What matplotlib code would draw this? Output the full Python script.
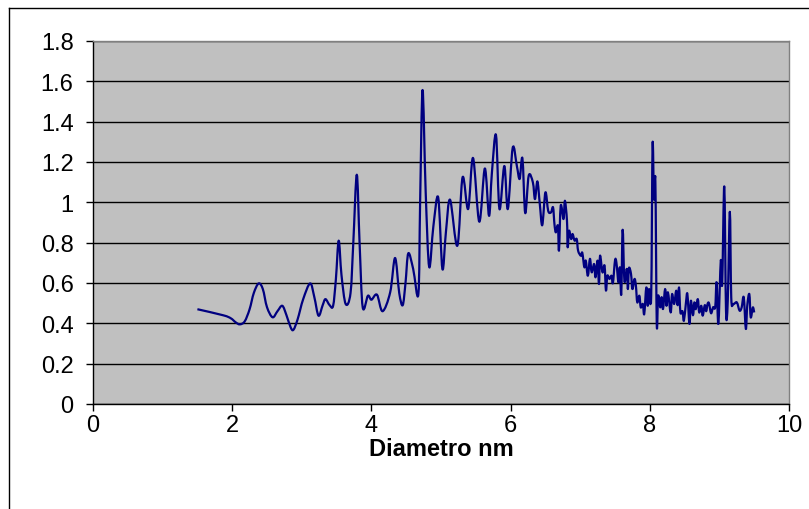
import matplotlib
matplotlib.use("Agg")
import matplotlib.pyplot as plt
from matplotlib.lines import Line2D
from matplotlib.path import Path
from matplotlib.patches import PathPatch

# Size distribution: diameter (nm) vs. intensity
diametro = [
    1.50, 1.87, 1.98, 2.05, 2.11, 2.18, 2.25, 2.31, 2.38, 2.44, 2.50, 2.58,
    2.65, 2.72, 2.78, 2.84, 2.88, 2.94, 3.02, 3.12, 3.18, 3.24, 3.30, 3.34,
    3.40, 3.45, 3.49, 3.53, 3.57, 3.63, 3.70, 3.74, 3.79, 3.83, 3.875, 3.95,
    4.00, 4.08, 4.16, 4.27, 4.34, 4.40, 4.45, 4.49, 4.53, 4.60, 4.675, 4.70,
    4.735, 4.78, 4.83, 4.89, 4.96, 5.02, 5.07, 5.13, 5.235, 5.31, 5.39, 5.46,
    5.55, 5.63, 5.69, 5.73, 5.79, 5.84, 5.91, 5.96, 6.03, 6.09, 6.13, 6.17,
    6.21, 6.26, 6.32, 6.35, 6.385, 6.42, 6.455, 6.50, 6.54, 6.58, 6.61, 6.63,
    6.65, 6.68, 6.695, 6.72, 6.76, 6.78, 6.81, 6.82, 6.84, 6.87, 6.89, 6.92,
    6.95, 6.97, 7.01, 7.03, 7.06, 7.08, 7.11, 7.14, 7.165, 7.20, 7.22, 7.25,
    7.27, 7.285, 7.32, 7.35, 7.37, 7.39, 7.42, 7.45, 7.47, 7.50, 7.52, 7.55,
    7.57, 7.59, 7.61, 7.635, 7.67, 7.685, 7.70, 7.73, 7.75, 7.78, 7.80, 7.82,
    7.85, 7.87, 7.90, 7.92, 7.95, 7.97, 7.99, 8.02, 8.04, 8.06, 8.08, 8.10,
    8.12, 8.15, 8.17, 8.19, 8.22, 8.24, 8.26, 8.30, 8.32, 8.35, 8.38, 8.40,
    8.42, 8.44, 8.47, 8.49, 8.52, 8.54, 8.57, 8.59, 8.62, 8.64, 8.66, 8.69,
    8.71, 8.74, 8.76, 8.79, 8.81, 8.83, 8.85, 8.88, 8.91, 8.94, 8.96, 8.985,
    9.02, 9.04, 9.07, 9.095, 9.12, 9.15, 9.17, 9.20, 9.25, 9.29, 9.32, 9.35,
    9.38, 9.40, 9.43, 9.45, 9.48, 9.50,
]
intensidad = [
    0.470, 0.440, 0.425, 0.405, 0.395, 0.410, 0.470, 0.550, 0.598, 0.570, 0.480, 0.430,
    0.460, 0.487, 0.440, 0.380, 0.368, 0.420, 0.520, 0.598, 0.530, 0.438, 0.490, 0.520,
    0.490, 0.487, 0.620, 0.810, 0.640, 0.496, 0.550, 0.800, 1.137, 0.800, 0.480, 0.537,
    0.517, 0.542, 0.460, 0.554, 0.724, 0.550, 0.490, 0.600, 0.747, 0.670, 0.545, 1.000,
    1.557, 1.050, 0.680, 0.880, 1.024, 0.670, 0.850, 1.013, 0.785, 1.124, 0.967, 1.220,
    0.904, 1.168, 0.933, 1.140, 1.334, 0.967, 1.180, 0.967, 1.270, 1.180, 1.116, 1.218,
    0.947, 1.132, 1.099, 1.016, 1.104, 0.990, 0.887, 1.049, 0.958, 0.950, 0.975, 0.892,
    0.851, 0.884, 0.760, 0.983, 0.917, 1.008, 0.909, 0.777, 0.859, 0.818, 0.843, 0.810,
    0.818, 0.760, 0.735, 0.750, 0.678, 0.711, 0.636, 0.720, 0.653, 0.694, 0.628, 0.711,
    0.595, 0.735, 0.653, 0.686, 0.562, 0.636, 0.620, 0.636, 0.600, 0.711, 0.702, 0.603,
    0.678, 0.545, 0.864, 0.611, 0.670, 0.570, 0.673, 0.645, 0.570, 0.620, 0.587, 0.504,
    0.537, 0.479, 0.496, 0.446, 0.578, 0.487, 0.570, 0.537, 1.289, 1.016, 1.102, 0.397,
    0.537, 0.479, 0.530, 0.471, 0.570, 0.487, 0.554, 0.454, 0.545, 0.496, 0.562, 0.490,
    0.578, 0.454, 0.460, 0.413, 0.504, 0.545, 0.397, 0.512, 0.440, 0.504, 0.470, 0.520,
    0.454, 0.487, 0.438, 0.490, 0.460, 0.496, 0.500, 0.450, 0.480, 0.480, 0.603, 0.397,
    0.711, 0.595, 1.079, 0.463, 0.512, 0.953, 0.529, 0.496, 0.504, 0.463, 0.479, 0.529,
    0.372, 0.487, 0.545, 0.430, 0.479, 0.454,
]

x_ticks = [0, 2, 4, 6, 8, 10]
y_ticks = [0, 0.2, 0.4, 0.6, 0.8, 1, 1.2, 1.4, 1.6, 1.8]
y_tick_labels = ["0", "0.2", "0.4", "0.6", "0.8", "1", "1.2", "1.4", "1.6", "1.8"]


def smoothed_path(xs, ys, tension=1.0 / 6.0):
    """Spreadsheet-style smoothed line: cubic Bezier segments through every point."""
    n = len(xs)
    verts = [(xs[0], ys[0])]
    codes = [Path.MOVETO]
    for i in range(n - 1):
        x0, y0 = (xs[i - 1], ys[i - 1]) if i > 0 else (xs[i], ys[i])
        x1, y1 = xs[i], ys[i]
        x2, y2 = xs[i + 1], ys[i + 1]
        x3, y3 = (xs[i + 2], ys[i + 2]) if i + 2 < n else (x2, y2)
        c1 = (x1 + (x2 - x0) * tension, y1 + (y2 - y0) * tension)
        c2 = (x2 - (x3 - x1) * tension, y2 - (y3 - y1) * tension)
        verts += [c1, c2, (x2, y2)]
        codes += [Path.CURVE4] * 3
    return Path(verts, codes)


plt.rcParams["font.family"] = ["Liberation Sans", "DejaVu Sans"]

fig = plt.figure(figsize=(8.09, 5.10), dpi=100)
fig.patch.set_facecolor("white")

ax = fig.add_axes([93 / 809, 1 - 405 / 510, (789 - 93) / 809, (405 - 42) / 510])
ax.set_facecolor("#C0C0C0")

curve = PathPatch(smoothed_path(diametro, intensidad), facecolor="none",
                  edgecolor="#000080", lw=1.6, joinstyle="round", zorder=3)
ax.add_patch(curve)

ax.set_xlim(0, 10)
ax.set_ylim(0, 1.8)
ax.set_xticks(x_ticks)
ax.set_xticklabels([str(v) for v in x_ticks])
ax.set_yticks(y_ticks)
ax.set_yticklabels(y_tick_labels)

ax.yaxis.grid(True, color="black", lw=1.0)
ax.set_axisbelow(True)

for side in ("top", "right"):
    ax.spines[side].set_color("#808080")
    ax.spines[side].set_linewidth(1.0)
for side in ("left", "bottom"):
    ax.spines[side].set_color("black")
    ax.spines[side].set_linewidth(1.0)

ax.tick_params(axis="both", direction="out", length=5, width=1.0, colors="black",
               labelsize=17)
ax.tick_params(axis="y", pad=9)
ax.tick_params(axis="x", pad=2)

ax.set_xlabel("Diametro nm", fontsize=17, fontweight="bold", labelpad=1)

# outer chart frame (top and left edges)
fig.add_artist(Line2D([8.5 / 809, 8.5 / 809], [-0.05, 1 - 8.5 / 510],
                      transform=fig.transFigure, color="black", lw=1.0))
fig.add_artist(Line2D([8.5 / 809, 1.05], [1 - 8.5 / 510, 1 - 8.5 / 510],
                      transform=fig.transFigure, color="black", lw=1.0))

fig.savefig("out.png", dpi=100)
